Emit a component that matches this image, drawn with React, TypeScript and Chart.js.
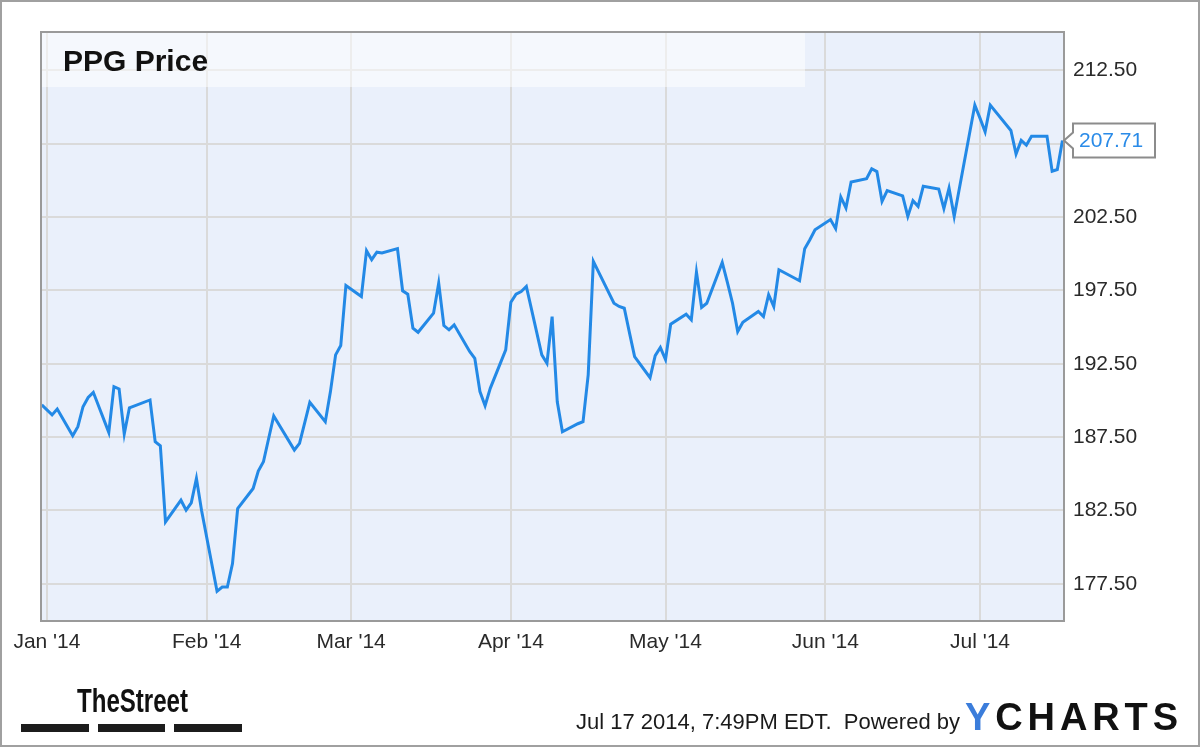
import React, { useEffect, useRef } from "react";
import { Chart, registerables } from "chart.js";

Chart.register(...registerables);

// Day index: 0 = Jan 1 2014
const monthTickDays = [0, 31, 59, 90, 120, 151, 181];
const monthTickLabels = ["Jan '14", "Feb '14", "Mar '14", "Apr '14", "May '14", "Jun '14", "Jul '14"];
const priceTickValues = [177.5, 182.5, 187.5, 192.5, 197.5, 202.5, 207.5, 212.5];

const tradingDays = [
  -1, 1, 2, 5, 6, 7, 8, 9, 12, 13, 14, 15, 16, 20, 21, 22, 23, 26, 27, 28, 29, 30,
  33, 34, 35, 36, 37, 40, 41, 42, 43, 44, 48, 49, 50, 51, 54, 55, 56, 57, 58,
  61, 62, 63, 64, 65, 68, 69, 70, 71, 72, 75, 76, 77, 78, 79, 82, 83, 84, 85, 86, 89,
  90, 91, 92, 93, 96, 97, 98, 99, 100, 103, 104, 105, 106, 110, 111, 112, 113, 114, 117, 118, 119,
  120, 121, 124, 125, 126, 127, 128, 131, 132, 133, 134, 135, 138, 139, 140, 141, 142, 146, 147, 148, 149,
  152, 153, 154, 155, 156, 159, 160, 161, 162, 163, 166, 167, 168, 169, 170, 173, 174, 175, 176, 177, 180,
  181, 182, 183, 187, 188, 189, 190, 191, 194, 195, 196, 197,
];

const prices = [
  189.69, 189.01, 189.41, 187.59, 188.21, 189.57, 190.2, 190.55, 187.82, 190.94, 190.78, 187.71, 189.5, 190.03, 187.18, 186.91, 181.72, 183.2, 182.52, 183.02, 184.68, 182.5,
  176.99, 177.28, 177.28, 178.88, 182.63, 184.0, 185.18, 185.82, 187.39, 188.94, 186.62, 187.07, 188.47, 189.87, 188.55, 190.6, 193.1, 193.74, 197.83,
  197.08, 200.2, 199.59, 200.1, 200.04, 200.34, 197.47, 197.24, 194.92, 194.64, 195.94, 197.99, 195.1, 194.81, 195.15, 193.33, 192.87, 190.6, 189.64, 190.82, 193.44,
  196.69, 197.24, 197.42, 197.76, 193.1, 192.53, 195.71, 189.91, 187.86, 188.41, 188.55, 191.74, 199.47, 196.62, 196.4, 196.28, 194.62, 192.98, 191.55, 193.05, 193.6,
  192.78, 195.19, 195.87, 195.49, 198.74, 196.33, 196.62, 199.4, 198.04, 196.62, 194.69, 195.33, 196.06, 195.71, 197.2, 196.4, 198.9, 198.15, 200.34, 200.95, 201.63,
  202.32, 201.7, 203.86, 203.11, 204.88, 205.11, 205.78, 205.59, 203.56, 204.3, 203.93, 202.54, 203.61, 203.22, 204.59, 204.4, 203.07, 204.47, 202.54, 204.44, 210.12,
  209.23, 208.3, 210.12, 208.39, 206.79, 207.71, 207.39, 208.0, 208.0, 205.61, 205.73, 207.71,
];

const titleText = "PPG Price";
const lastPriceLabel = "207.71";
const footerText = "Jul 17 2014, 7:49PM EDT.  Powered by";

const FONT = '"Liberation Sans", Arial, sans-serif';

const decorPlugin = {
  id: "decor",
  beforeDraw(chart: any) {
    const { ctx, chartArea: a } = chart;
    ctx.save();
    ctx.fillStyle = "#ffffff";
    ctx.fillRect(0, 0, chart.width, chart.height);
    ctx.fillStyle = "#EAF0FB";
    ctx.fillRect(a.left, a.top, a.right - a.left, a.bottom - a.top);
    ctx.restore();
  },
  beforeDatasetsDraw(chart: any) {
    const { ctx, chartArea: a } = chart;
    ctx.save();
    ctx.fillStyle = "rgba(255,255,255,0.5)";
    ctx.fillRect(a.left, a.top, 805 - a.left, 55);
    ctx.fillStyle = "#111111";
    ctx.font = `bold 30px ${FONT}`;
    ctx.textBaseline = "alphabetic";
    ctx.fillText(titleText, 63, 71);
    ctx.restore();
  },
  afterDraw(chart: any) {
    const { ctx, chartArea: a } = chart;
    const yScale = chart.scales.y;
    ctx.save();
    // plot border
    ctx.strokeStyle = "#9A9A9A";
    ctx.lineWidth = 2;
    ctx.strokeRect(a.left, a.top, a.right - a.left, a.bottom - a.top);
    // outer border
    ctx.strokeStyle = "#A0A0A0";
    ctx.strokeRect(1, 1, chart.width - 2, chart.height - 2);

    // last price flag
    const lastVal = prices[prices.length - 1];
    const py = yScale.getPixelForValue(lastVal);
    const tipX = a.right;
    const boxL = a.right + 9;
    const boxR = boxL + 82;
    const boxT = py - 17;
    const boxB = py + 17;
    ctx.beginPath();
    ctx.moveTo(tipX, py);
    ctx.lineTo(boxL, py - 8);
    ctx.lineTo(boxL, boxT);
    ctx.lineTo(boxR, boxT);
    ctx.lineTo(boxR, boxB);
    ctx.lineTo(boxL, boxB);
    ctx.lineTo(boxL, py + 8);
    ctx.closePath();
    ctx.fillStyle = "#ffffff";
    ctx.fill();
    ctx.strokeStyle = "#8C8C8C";
    ctx.lineWidth = 2;
    ctx.stroke();
    ctx.fillStyle = "#2A8BE8";
    ctx.font = `21px ${FONT}`;
    ctx.textBaseline = "middle";
    ctx.textAlign = "left";
    ctx.fillText(lastPriceLabel, boxL + 6, py + 1);

    // footer text
    ctx.textBaseline = "alphabetic";
    ctx.fillStyle = "#1a1a1a";
    ctx.font = `22px ${FONT}`;
    ctx.fillText(footerText, 576, 729);

    // YCHARTS logo
    ctx.font = `bold 38px ${FONT}`;
    const letters = ["Y", "C", "H", "A", "R", "T", "S"];
    const widths = letters.map((l) => ctx.measureText(l).width);
    const total = widths.reduce((s, w) => s + w, 0);
    const gap = (1178 - 965 - total) / (letters.length - 1);
    let lx = 965;
    letters.forEach((l, i) => {
      ctx.fillStyle = i === 0 ? "#3B7DDB" : "#111111";
      ctx.fillText(l, lx, 730);
      lx += widths[i] + gap;
    });

    // TheStreet logo
    ctx.fillStyle = "#111111";
    ctx.font = `bold 33px ${FONT}`;
    const tw = ctx.measureText("TheStreet").width;
    ctx.save();
    ctx.translate(77, 712);
    ctx.scale(111 / tw, 1);
    ctx.fillText("TheStreet", 0, 0);
    ctx.restore();
    ctx.fillStyle = "#1c1c1c";
    ctx.fillRect(21, 724, 68, 8);
    ctx.fillRect(98, 724, 67, 8);
    ctx.fillRect(174, 724, 68, 8);
    ctx.restore();
  },
};

export default function App() {
  const ref = useRef<HTMLCanvasElement | null>(null);

  useEffect(() => {
    document.body.style.margin = "0";
    const canvas = ref.current;
    if (!canvas) return;
    const chart = new Chart(canvas, {
      type: "line",
      data: {
        datasets: [
          {
            data: tradingDays.map((d, i) => ({ x: d, y: prices[i] })),
            borderColor: "#2389E6",
            borderWidth: 3,
            pointRadius: 0,
            tension: 0,
            fill: false,
          },
        ],
      },
      options: {
        responsive: false,
        animation: false,
        devicePixelRatio: 1,
        layout: { padding: { left: 41, top: 32, right: 0, bottom: 0 } },
        plugins: {
          legend: { display: false },
          tooltip: { enabled: false },
        },
        scales: {
          x: {
            type: "linear",
            min: -1.15,
            max: 197.3,
            afterBuildTicks: (scale: any) => {
              scale.ticks = monthTickDays.map((v) => ({ value: v }));
            },
            afterFit: (scale: any) => {
              scale.height = 126;
            },
            grid: { color: "#DADADA", lineWidth: 2, drawTicks: false },
            border: { display: false },
            ticks: {
              autoSkip: false,
              maxRotation: 0,
              padding: 9,
              color: "#2a2a2a",
              font: { family: FONT, size: 21 },
              callback: (v: any) => {
                const i = monthTickDays.indexOf(Number(v));
                return i >= 0 ? monthTickLabels[i] : "";
              },
            },
          },
          y: {
            type: "linear",
            position: "right",
            min: 174.97,
            max: 215.1,
            afterBuildTicks: (scale: any) => {
              scale.ticks = priceTickValues.map((v) => ({ value: v }));
            },
            afterFit: (scale: any) => {
              scale.width = 136;
            },
            grid: { color: "#DADADA", lineWidth: 2, drawTicks: false },
            border: { display: false },
            ticks: {
              padding: 9,
              color: "#2a2a2a",
              font: { family: FONT, size: 21 },
              callback: (v: any) => Number(v).toFixed(2),
            },
          },
        },
      },
      plugins: [decorPlugin],
    });
    return () => chart.destroy();
  }, []);

  return (
    <div style={{ position: "absolute", left: 0, top: 0, width: 1200, height: 747 }}>
      <canvas ref={ref} width={1200} height={747} style={{ display: "block", width: 1200, height: 747 }} />
    </div>
  );
}
